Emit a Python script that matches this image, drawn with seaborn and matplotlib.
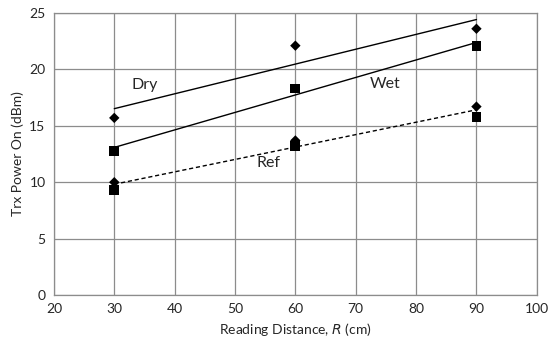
import numpy as np
import pandas as pd
import matplotlib
matplotlib.use("Agg")
import matplotlib.pyplot as plt
import seaborn as sns

distance = [30, 60, 90]
dry = [15.7, 22.1, 23.6]
wet = [12.8, 18.3, 22.1]
ref_dry = [10.0, 13.7, 16.7]
ref_wet = [9.3, 13.2, 15.8]

sns.set_style("white")
plt.rcParams['font.family'] = ['Lato', 'DejaVu Sans']

df_dry = pd.DataFrame({"x": distance, "y": dry})
df_wet = pd.DataFrame({"x": distance, "y": wet})
df_ref = pd.DataFrame({"x": distance * 2, "y": ref_dry + ref_wet})

fig, ax = plt.subplots(figsize=(5.5, 3.5), dpi=100)
fig.subplots_adjust(left=0.098, right=0.976, top=0.963, bottom=0.157)

line_kw = {"color": "black", "linewidth": 1.0}
sns.regplot(data=df_dry, x="x", y="y", scatter=False, ci=None, truncate=True, line_kws=line_kw, ax=ax)
sns.regplot(data=df_wet, x="x", y="y", scatter=False, ci=None, truncate=True, line_kws=line_kw, ax=ax)
sns.regplot(data=df_ref, x="x", y="y", scatter=False, ci=None, truncate=True,
            line_kws={**line_kw, "linestyle": (0, (3, 2))}, ax=ax)

sns.scatterplot(x=distance, y=dry, marker="D", s=28, color="black", edgecolor="none", ax=ax, zorder=3)
sns.scatterplot(x=distance, y=wet, marker="s", s=50, color="black", edgecolor="none", ax=ax, zorder=3)
sns.scatterplot(x=distance, y=ref_dry, marker="D", s=28, color="black", edgecolor="none", ax=ax, zorder=3)
sns.scatterplot(x=distance, y=ref_wet, marker="s", s=50, color="black", edgecolor="none", ax=ax, zorder=3)

ax.text(35, 18.6, "Dry", fontsize=11.5, ha="center", va="center")
ax.text(74.8, 18.7, "Wet", fontsize=11.5, ha="center", va="center")
ax.text(55.5, 11.7, "Ref", fontsize=11.5, ha="center", va="center")

ax.set_xlim(20, 100)
ax.set_ylim(0, 25)
ax.set_xticks(range(20, 101, 10))
ax.set_yticks(range(0, 26, 5))
ax.grid(True, color="#8c8c8c", linewidth=0.9)
ax.set_axisbelow(True)
for sp in ax.spines.values():
    sp.set_color("#8c8c8c")
    sp.set_linewidth(0.9)
ax.tick_params(length=0, labelsize=10, pad=6)
ax.set_xlabel("Reading Distance, $\\it{R}$ (cm)", fontsize=10)
ax.set_ylabel("Trx Power On (dBm)", fontsize=10)

plt.savefig("out.png", dpi=100)
